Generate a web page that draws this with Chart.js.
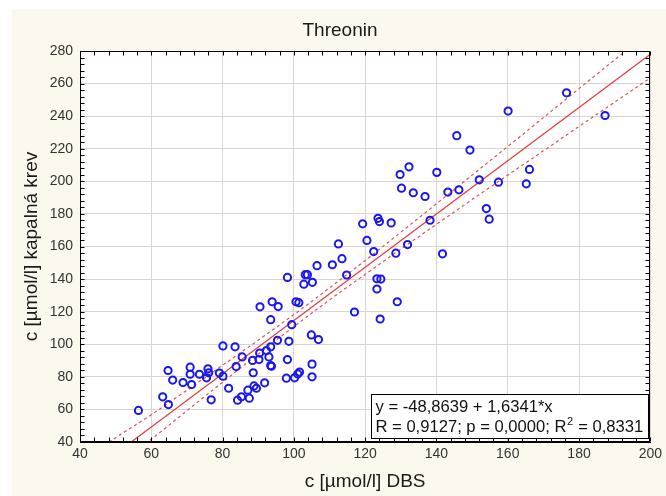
<!DOCTYPE html>
<html>
<head>
<meta charset="utf-8">
<script src="https://cdn.jsdelivr.net/npm/chart.js@4/dist/chart.umd.min.js"></script>
<style>
  html, body { margin: 0; padding: 0; background: #ffffff; }
  #wrap { width: 666px; height: 496px; }
</style>
</head>
<body>
<div id="wrap"><canvas id="chart" width="666" height="496"></canvas></div>
<script>
// Texts
const chartTitle = 'Threonin';
const xTitle = 'c [µmol/l] DBS';
const yTitle = 'c [µmol/l] kapalná krev';

// Measured pairs: DBS concentration vs. capillary blood concentration
const dbs = [
  56.4, 63.2, 64.8, 64.7, 66.0, 68.9, 70.9, 70.9, 71.3, 73.5,
  75.9, 76.1, 75.5, 76.8, 79.1, 80.1, 80.1, 81.7, 83.5, 83.8,
  84.2, 85.3, 85.5, 87.1, 87.5, 88.4, 88.6, 88.8, 89.5, 90.2,
  90.4, 90.5, 91.8, 92.3, 93.0, 93.5, 93.5, 93.7, 93.5, 93.9,
  95.4, 95.6, 97.9, 98.2, 98.2, 98.6, 99.4, 100.2, 101.1, 101.6,
  100.6, 101.4, 102.8, 103.2, 103.8, 104.9, 105.1, 105.1, 105.2, 106.5,
  106.9, 110.8, 113.5, 114.8, 117.0, 123.3, 124.4, 123.3, 124.2, 112.5,
  119.3, 120.5, 122.4, 123.6, 124.0, 127.3, 128.6, 129.0, 131.9, 138.2,
  129.8, 130.2, 132.3, 133.5, 136.8, 140.1, 141.7, 143.2, 145.7, 146.3,
  149.4, 152.0, 154.0, 154.8, 157.4, 165.2, 166.1, 160.1, 176.5, 187.3
];
const krev = [
  59.4, 67.7, 63.0, 83.9, 78.0, 76.5, 85.9, 81.6, 75.3, 81.6,
  84.9, 82.5, 79.4, 65.9, 82.3, 80.4, 99.0, 73.0, 98.4, 86.3,
  65.7, 67.7, 92.2, 71.8, 66.9, 90.1, 82.5, 74.4, 73.0, 90.6,
  94.6, 123.0, 76.3, 96.1, 92.2, 98.4, 86.9, 86.5, 115.1, 126.1,
  102.4, 123.1, 79.2, 90.6, 141.0, 101.8, 112.0, 79.4, 81.8, 82.9,
  126.1, 125.5, 136.9, 142.7, 142.7, 105.7, 87.8, 80.0, 138.0, 148.2,
  102.9, 148.8, 152.5, 142.5, 119.8, 140.2, 140.0, 133.9, 115.5, 161.6,
  173.9, 163.7, 156.9, 177.3, 175.3, 174.5, 155.9, 126.1, 161.2, 176.1,
  204.2, 195.8, 208.9, 193.0, 190.7, 205.5, 155.5, 193.4, 228.0, 194.8,
  219.2, 200.9, 183.3, 176.8, 199.5, 198.5, 207.3, 243.1, 254.3, 240.4
];

// Regression result
const fitIntercept = -48.8639;
const fitSlope = 1.6341;
const statR = '0,9127';
const statP = '0,0000';
const statR2 = '0,8331';

// 95% confidence band of the fit
const bandX     = [40, 50, 60, 70, 80, 90, 100, 110, 120, 130, 140, 150, 160, 170, 180, 190, 200];
const bandUpper = [26.7, 42.6, 56.7, 71.8, 87.1, 102.5, 118.2, 134.6, 151.4, 168.8, 186.2, 203.8, 221.4, 239.1, 256.9, 274.6, 292.3];
const bandLower = [6.3, 25.0, 41.7, 59.2, 76.7, 94.0, 110.8, 127.2, 142.9, 158.4, 173.6, 188.8, 203.8, 218.7, 233.7, 248.6, 263.5];

const xMin = 40, xMax = 200, yMin = 40, yMax = 280;

const fmt = v => v.toFixed(4).replace('.', ',');
const fitLine = [xMin, xMax].map(x => ({ x, y: fitIntercept + fitSlope * x }));
const points = dbs.map((x, i) => ({ x, y: krev[i] }));
const upper = bandX.map((x, i) => ({ x, y: bandUpper[i] }));
const lower = bandX.map((x, i) => ({ x, y: bandLower[i] }));

const FONT = '"Liberation Sans", Arial, sans-serif';
const lineRed = 'rgb(232, 56, 56)';
const bandRed = 'rgb(226, 80, 80)';

// Page background, plot frame, inner tick marks, statistics box and heading
const decor = {
  id: 'decor',
  beforeDraw(chart) {
    const { ctx, chartArea: a, width, height } = chart;
    ctx.save();
    ctx.fillStyle = '#ffffff';
    ctx.fillRect(0, 0, width, height);
    ctx.fillStyle = '#fdf8ee';
    ctx.fillRect(12, 9, width - 12, height - 9);
    ctx.fillStyle = '#ffffff';
    ctx.fillRect(a.left, a.top, a.right - a.left, a.bottom - a.top);
    ctx.restore();
  },
  afterDraw(chart) {
    const { ctx, chartArea: a } = chart;
    const xs = chart.scales.x, ys = chart.scales.y;
    ctx.save();
    ctx.strokeStyle = '#000000';
    ctx.lineWidth = 1;
    const L = Math.round(a.left) + 0.5, R = Math.round(a.right) - 0.5;
    const T = Math.round(a.top) + 0.5, B = Math.round(a.bottom) - 0.5;
    ctx.beginPath();
    for (let v = xMin; v <= xMax; v += 4) {
      const p = Math.round(xs.getPixelForValue(v)) + 0.5;
      ctx.moveTo(p, B); ctx.lineTo(p, B - 4);
      ctx.moveTo(p, T); ctx.lineTo(p, T + 4);
    }
    for (let v = yMin; v <= yMax; v += 4) {
      const p = Math.round(ys.getPixelForValue(v)) + 0.5;
      ctx.moveTo(L, p); ctx.lineTo(L + 4, p);
      ctx.moveTo(R, p); ctx.lineTo(R - 4, p);
    }
    ctx.stroke();
    ctx.strokeRect(L, T, R - L, B - T);

    // statistics box
    const bx = 371.5, by = 394.5, bw = 277, bh = 44;
    ctx.fillStyle = '#ffffff';
    ctx.fillRect(bx, by, bw, bh);
    ctx.strokeRect(bx, by, bw, bh);
    ctx.fillStyle = '#111111';
    ctx.textBaseline = 'alphabetic';
    ctx.textAlign = 'left';
    const big = '16.6px ' + FONT;
    ctx.font = big;
    const tx = bx + 4;
    ctx.fillText('y = ' + fmt(fitIntercept) + ' + ' + fmt(fitSlope) + '*x', tx, 412);
    const part1 = 'R = ' + statR + '; p = ' + statP + '; R';
    ctx.fillText(part1, tx, 432);
    const w = ctx.measureText(part1).width;
    ctx.font = '11px ' + FONT;
    ctx.fillText('2', tx + w + 0.5, 425);
    const w2 = ctx.measureText('2').width;
    ctx.font = big;
    ctx.fillText(' = ' + statR2, tx + w + w2 + 1, 432);

    // heading
    ctx.font = '19px ' + FONT;
    ctx.textAlign = 'center';
    ctx.textBaseline = 'middle';
    ctx.fillStyle = '#1a1a1a';
    ctx.fillText(chartTitle, 340, 31);
    ctx.restore();
  }
};

new Chart(document.getElementById('chart'), {
  type: 'scatter',
  data: {
    datasets: [
      {
        label: 'Threonin',
        data: points,
        pointStyle: 'circle',
        pointRadius: 3.6,
        pointBorderWidth: 2,
        pointBackgroundColor: 'rgba(0,0,0,0)',
        pointBorderColor: 'rgb(24, 24, 238)',
        showLine: false
      },
      {
        label: 'fit',
        data: fitLine,
        showLine: true,
        borderColor: lineRed,
        borderWidth: 1.2,
        pointRadius: 0
      },
      {
        label: 'upper 95%',
        data: upper,
        showLine: true,
        borderColor: bandRed,
        borderWidth: 1.2,
        borderDash: [3, 3],
        cubicInterpolationMode: 'monotone',
        pointRadius: 0
      },
      {
        label: 'lower 95%',
        data: lower,
        showLine: true,
        borderColor: bandRed,
        borderWidth: 1.2,
        borderDash: [3, 3],
        cubicInterpolationMode: 'monotone',
        pointRadius: 0
      }
    ]
  },
  options: {
    responsive: false,
    animation: false,
    devicePixelRatio: 1,
    layout: { padding: { left: 12, right: 15, top: 51, bottom: 0 } },
    plugins: {
      legend: { display: false },
      title: { display: false },
      tooltip: { enabled: false }
    },
    scales: {
      x: {
        type: 'linear',
        min: xMin, max: xMax,
        afterFit: s => { s.height = 54; },
        ticks: { stepSize: 20, color: '#333333', padding: 4, font: { family: FONT, size: 14 } },
        grid: { color: '#d6d6d6', drawTicks: false },
        border: { color: '#000000' },
        title: { display: true, text: xTitle, color: '#1a1a1a', font: { family: FONT, size: 19 }, padding: { top: 0, bottom: 2.6 } }
      },
      y: {
        type: 'linear',
        min: yMin, max: yMax,
        afterFit: s => { s.width = 68; },
        ticks: { stepSize: 20, color: '#333333', padding: 7, font: { family: FONT, size: 14 } },
        grid: { color: '#d6d6d6', drawTicks: false },
        border: { color: '#000000' },
        title: { display: true, text: yTitle, color: '#1a1a1a', font: { family: FONT, size: 19 }, padding: { top: 8.6, bottom: 0 } }
      }
    }
  },
  plugins: [decor]
});
</script>
</body>
</html>
